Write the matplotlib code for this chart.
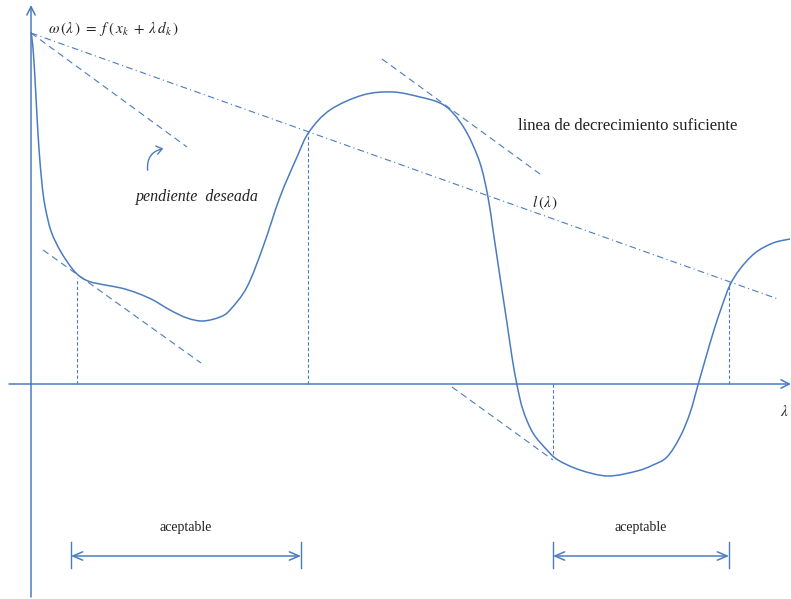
import matplotlib.pyplot as plt
from matplotlib.patches import FancyArrowPatch, PathPatch
from matplotlib.path import Path

plt.rcParams['mathtext.fontset'] = 'stix'
plt.rcParams['font.family'] = 'Liberation Serif'

azul = '#4a7cc0'

# funcion phi(lambda) = f(x_k + lambda d_k)
lam = [0, 2, 4, 6, 8, 11, 14, 20, 30, 44, 57, 74, 90, 106, 122,
       139, 156, 172, 189, 199, 216, 232, 249, 266, 278, 299, 332, 362, 389,
       409, 422, 436, 449, 457, 462, 469, 476, 481, 486, 492, 502, 516, 527,
       549, 577, 606, 622, 636, 649, 659, 667, 675, 683, 691, 699, 709, 724,
       742, 759]
phi = [352, 336, 305, 268, 235, 200, 178, 153, 132, 112, 103, 99, 96, 91, 84,
       74, 66, 63, 67, 74, 97, 137, 187, 227, 252, 274, 289, 292, 287, 281,
       271, 251, 221, 187, 154, 107, 61, 27, -1, -26, -49, -66, -76, -86, -92,
       -87, -81, -73, -53, -29, -1, 27, 54, 78, 99, 115, 131, 141, 145]

# recta l(lambda) de decrecimiento suficiente
recta_l_x = [0, 747]
recta_l_y = [351, 85]

# pendiente deseada desde lambda = 0
pend_x = [0, 156]
pend_y = [351, 237]

# tangentes en los puntos de la curva
tangentes = [
    ([12, 170], [134, 21]),
    ([351, 509], [325, 210]),
    ([421, 522], [-3, -76]),
]

# limites de los intervalos aceptables
verticales_x = [46, 277, 522, 698]
verticales_y = [106, 252, -71, 101]

intervalos = [(40, 270), (522, 698)]
y_intervalo = -172


def curva_suave(xs, ys):
    # segmentos Bezier cubicos (Catmull-Rom) que pasan por los puntos
    pts = list(zip(xs, ys))
    verts = [pts[0]]
    codes = [Path.MOVETO]
    n = len(pts)
    for i in range(n - 1):
        p0 = pts[max(i - 1, 0)]
        p1 = pts[i]
        p2 = pts[i + 1]
        p3 = pts[min(i + 2, n - 1)]
        c1 = (p1[0] + (p2[0] - p0[0]) / 6, p1[1] + (p2[1] - p0[1]) / 6)
        c2 = (p2[0] - (p3[0] - p1[0]) / 6, p2[1] - (p3[1] - p1[1]) / 6)
        verts += [c1, c2, p2]
        codes += [Path.CURVE4] * 3
    return Path(verts, codes)


fig = plt.figure(figsize=(7.91, 5.99), dpi=100)
ax = fig.add_axes([0, 0, 1, 1])
ax.set_xlim(-31, 760)
ax.set_ylim(-215, 384)
ax.axis('off')

# ejes con flecha
ax.annotate('', xy=(760, 0), xytext=(-22, 0),
            arrowprops=dict(arrowstyle='->,head_length=0.6,head_width=0.3',
                            color=azul, lw=1.1, shrinkA=0, shrinkB=0))
ax.annotate('', xy=(0, 379), xytext=(0, -213),
            arrowprops=dict(arrowstyle='->,head_length=0.6,head_width=0.3',
                            color=azul, lw=1.1, shrinkA=0, shrinkB=0))

ax.add_patch(PathPatch(curva_suave(lam, phi), facecolor='none',
                       edgecolor=azul, lw=1.1))
ax.plot(recta_l_x, recta_l_y, color=azul, lw=0.8, linestyle=(0, (6, 3, 1, 3)))
ax.plot(pend_x, pend_y, color=azul, lw=0.8, linestyle=(0, (6, 4)))
for tx, ty in tangentes:
    ax.plot(tx, ty, color=azul, lw=0.8, linestyle=(0, (6, 4)))

for vx, vy in zip(verticales_x, verticales_y):
    ax.plot([vx, vx], [0, vy], color=azul, lw=0.8, linestyle=(0, (3, 2)))

for a, b in intervalos:
    ax.annotate('', xy=(b, y_intervalo), xytext=(a, y_intervalo),
                arrowprops=dict(arrowstyle='<->,head_length=0.7,head_width=0.3',
                                color=azul, lw=1.1, shrinkA=0, shrinkB=0))
    ax.plot([a, a], [y_intervalo + 14, y_intervalo - 12], color=azul, lw=1.0)
    ax.plot([b, b], [y_intervalo + 14, y_intervalo - 12], color=azul, lw=1.0)
    ax.text((a + b) / 2, y_intervalo + 29, 'aceptable', ha='center',
            va='center', fontsize=10, color='#222222')

# flecha curva hacia la pendiente deseada
flecha = FancyArrowPatch((117, 211), (135, 236),
                         connectionstyle='arc3,rad=-0.5',
                         arrowstyle='->,head_length=4,head_width=3',
                         color=azul, lw=1.0)
ax.add_patch(flecha)

ax.text(17, 356,
        r'$\omega\,(\lambda\,)\ =\ f\;(\,x_k\;+\;\lambda\, d_k\,)$',
        ha='left', va='center', fontsize=11, color='#222222')
ax.text(166, 187, 'pendiente  deseada', ha='center', va='center',
        fontsize=11.5, style='italic', color='#222222')
ax.text(597, 258, 'linea de decrecimiento suficiente', ha='center',
        va='center', fontsize=12, color='#222222')
ax.text(514, 181, r'$l\,(\lambda\,)$', ha='center', va='center',
        fontsize=11, color='#222222')
ax.text(753, -27, r'$\lambda$', ha='center', va='center', fontsize=11,
        color='#222222')

fig.savefig('out.png', dpi=100)
